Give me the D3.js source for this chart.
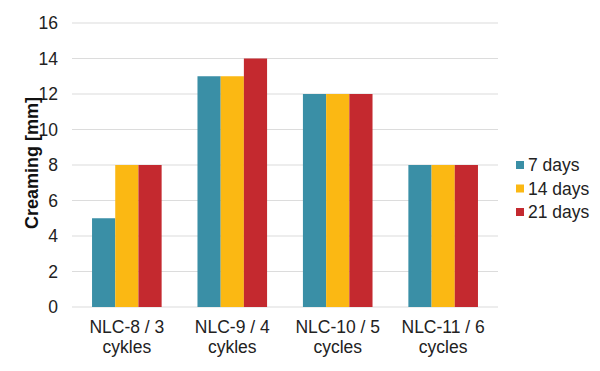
<!DOCTYPE html>
<html>
<head>
<meta charset="utf-8">
<script src="https://cdn.jsdelivr.net/npm/d3@7"></script>
<style>
  body { margin: 0; background: #fff; }
  svg { display: block; font-family: "Liberation Sans", Arial, sans-serif; }
</style>
</head>
<body>
<div id="chart"></div>
<script>
// Chart data
const categories = [["NLC-8 / 3", "cykles"], ["NLC-9 / 4", "cykles"], ["NLC-10 / 5", "cycles"], ["NLC-11 / 6", "cycles"]];
const seriesNames = ["7 days", "14 days", "21 days"];
const days7 = [5, 13, 12, 8];
const days14 = [8, 13, 12, 8];
const days21 = [8, 14, 12, 8];
const yTicks = [0, 2, 4, 6, 8, 10, 12, 14, 16];

const colors = ["#3a8fa6", "#fbb813", "#c4292f"];
const seriesValues = [days7, days14, days21];

const W = 600, H = 371;
const margin = { top: 23, right: 102, bottom: 64, left: 72 };
const width = W - margin.left - margin.right,
  height = H - margin.top - margin.bottom;

const svg = d3.select("#chart")
  .append("svg")
  .attr("width", W)
  .attr("height", H)
  .append("g")
  .attr("transform", `translate(${margin.left},${margin.top})`);

const x0 = d3.scaleBand()
  .domain(categories.map((d, i) => i))
  .range([0, width])
  .paddingInner(0.34)
  .paddingOuter(0.19);

const x1 = d3.scaleBand()
  .domain(seriesNames)
  .range([0, x0.bandwidth()]);

const y = d3.scaleLinear()
  .domain([0, 16])
  .range([height, 0]);

// Gridlines
svg.append("g")
  .selectAll("line")
  .data(yTicks)
  .enter()
  .append("line")
  .attr("x1", 0)
  .attr("x2", width)
  .attr("y1", d => y(d))
  .attr("y2", d => y(d))
  .attr("stroke", "#dcdcdc")
  .attr("stroke-width", 1.2);

// Y axis labels
const yAxis = svg.append("g")
  .call(d3.axisLeft(y).tickValues(yTicks).tickSize(0).tickPadding(14));
yAxis.select(".domain").remove();
yAxis.selectAll("text")
  .style("font-size", "17.5px")
  .style("font-family", "Liberation Sans, Arial, sans-serif")
  .style("fill", "#222");

// Bars
const groups = svg.selectAll(".group")
  .data(categories.map((c, i) => i))
  .enter()
  .append("g")
  .attr("transform", i => `translate(${x0(i)},0)`);

groups.selectAll("rect")
  .data(i => seriesNames.map((s, k) => ({ s, k, v: seriesValues[k][i] })))
  .enter()
  .append("rect")
  .attr("x", d => x1(d.s))
  .attr("y", d => y(d.v))
  .attr("width", x1.bandwidth())
  .attr("height", d => height - y(d.v))
  .attr("fill", d => colors[d.k]);

// X labels
const xl = svg.append("g")
  .selectAll("text")
  .data(categories)
  .enter()
  .append("text")
  .attr("x", (d, i) => x0(i) + x0.bandwidth() / 2)
  .attr("y", height + 26)
  .style("text-anchor", "middle")
  .style("font-size", "17.5px")
  .style("fill", "#222");
xl.append("tspan")
  .attr("x", (d, i) => x0(i) + x0.bandwidth() / 2)
  .text(d => d[0]);
xl.append("tspan")
  .attr("x", (d, i) => x0(i) + x0.bandwidth() / 2)
  .attr("dy", 19.5)
  .text(d => d[1]);

// Y title
svg.append("text")
  .attr("transform", "rotate(-90)")
  .attr("x", -height / 2 + 2)
  .attr("y", -margin.left + 38)
  .style("text-anchor", "middle")
  .style("font-size", "18px")
  .style("font-weight", "bold")
  .style("fill", "#111")
  .text("Creaming [mm]");

// Legend
const legend = svg.append("g")
  .attr("transform", `translate(${width + 18},${165 - margin.top})`);
seriesNames.forEach((s, k) => {
  const row = legend.append("g").attr("transform", `translate(0,${k * 23.5})`);
  row.append("rect")
    .attr("x", 0)
    .attr("y", -4)
    .attr("width", 8)
    .attr("height", 8)
    .attr("fill", colors[k]);
  row.append("text")
    .attr("x", 12)
    .attr("y", 0)
    .attr("dy", "0.35em")
    .style("font-size", "17.5px")
    .style("fill", "#222")
    .text(s);
});
</script>
</body>
</html>
